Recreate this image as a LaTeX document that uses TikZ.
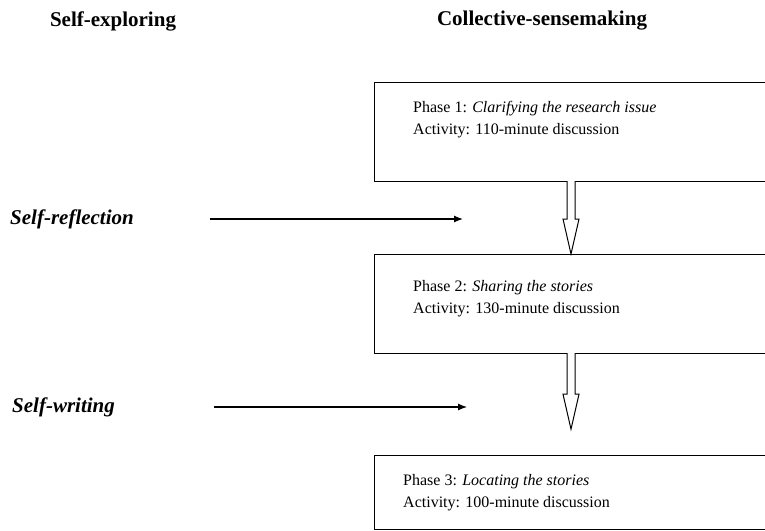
\documentclass[tikz,border=0pt]{standalone}
\usepackage{fontspec}
\setmainfont{Liberation Serif}
\usetikzlibrary{arrows.meta,positioning,calc}

\tikzset{
  heading/.style={font=\fontsize{21}{25}\selectfont\bfseries, inner sep=0pt},
  selflabel/.style={font=\fontsize{21}{25}\selectfont\bfseries\itshape, inner sep=0pt, anchor=west},
  phasebox/.style={draw, line width=1.2pt, minimum width=420pt, anchor=north west, inner sep=0pt},
  phasetext/.style={font=\fontsize{16}{22}\selectfont, align=left, inner sep=0pt},
  thinarrow/.style={-{Latex[length=9pt,width=7pt]}, line width=1.3pt},
  blockarrow/.style={draw, fill=white, line width=1pt, line join=miter},
}

% hollow arrow from #1 (top) to #2 (tip)
\newcommand{\hollowarrow}[2]{%
\draw[blockarrow] ($(#1)+(-4,-1)$) -- ($(#2)+(-4,-35)$) -- ($(#2)+(-8,-35)$) -- (#2)
  -- ($(#2)+(8,-35)$) -- ($(#2)+(4,-35)$) -- ($(#1)+(4,-1)$);}

\begin{document}
\begin{tikzpicture}[x=1pt, y=-1pt]
\useasboundingbox (0,0) rectangle (765,530);

\node[heading] (selfexp) at (113,21) {Self-exploring};
\node[heading] (collect) at (542,21) {Collective-sensemaking};

% phases
\node[phasebox, minimum height=99pt] (box1) at (374,82) {};
\node[phasetext, below right=19pt and 39pt of box1.north west] (phase1)
  {Phase 1: \textit{Clarifying the research issue}\\Activity: 110-minute discussion};
\node[phasebox, minimum height=99pt] (box2) at (374,254) {};
\node[phasetext, below right=26pt and 39pt of box2.north west] (phase2)
  {Phase 2: \textit{Sharing the stories}\\Activity: 130-minute discussion};
\node[phasebox, minimum height=74pt] (box3) at (374,455) {};
\node[phasetext, below right=19pt and 29pt of box3.north west] (phase3)
  {Phase 3: \textit{Locating the stories}\\Activity: 100-minute discussion};

\coordinate (s1) at ($(box1.south west)+(197,0)$);
\coordinate (t1) at ($(box2.north west)+(197,0)$);
\coordinate (s2) at ($(box2.south west)+(197,0)$);
\coordinate (t2) at ($(s2)+(0,75)$);
\hollowarrow{s1}{t1}
\hollowarrow{s2}{t2}

% self exploring side
\node[selflabel] (reflect) at (10,219) {Self-reflection};
\node[selflabel] (writing) at (12,407) {Self-writing};
\coordinate[right=76pt of reflect.east] (rstart);
\coordinate[right=253pt of rstart] (rend);
\coordinate[right=99pt of writing.east] (wstart);
\coordinate[right=253pt of wstart] (wend);
\draw[thinarrow] (rstart) -- (rend);
\draw[thinarrow] (wstart) -- (wend);
\end{tikzpicture}
\end{document}
